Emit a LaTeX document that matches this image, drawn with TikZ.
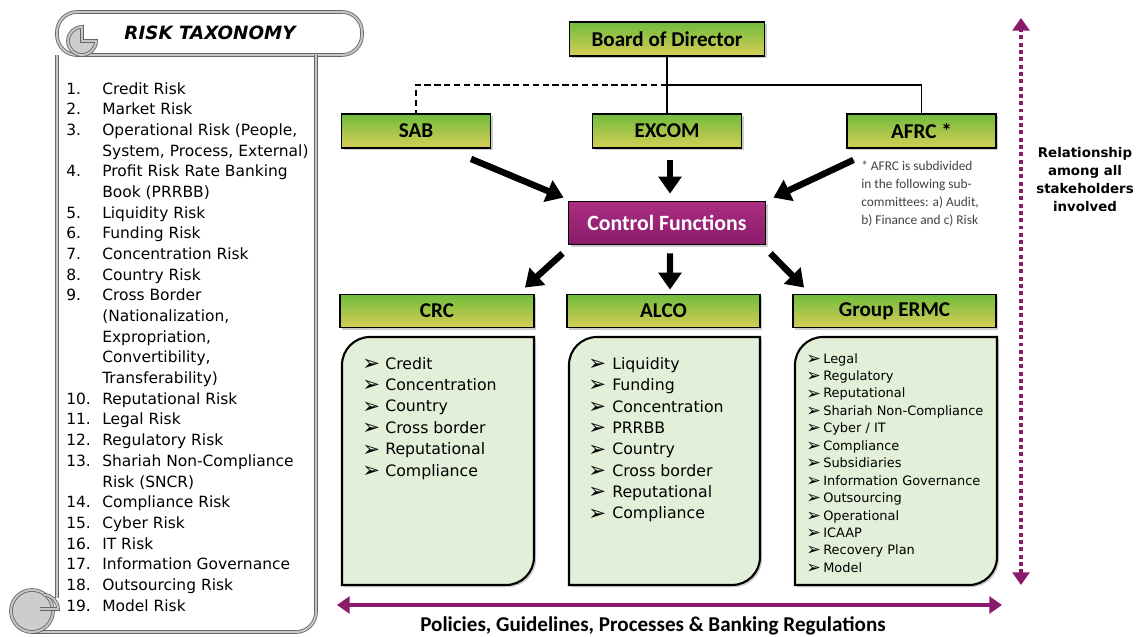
\documentclass[tikz,border=0pt]{standalone}
\usepackage{fontspec}
\setmainfont{DejaVu Sans}
\newfontfamily\hfont{Carlito}
\newfontfamily\symfont{DejaVu Sans}
\usepackage{array}
\usepackage{graphicx}
\usetikzlibrary{calc, arrows.meta, shadows}
\tikzset{>=latex}

\definecolor{hdrtop}{RGB}{112,188,60}
\definecolor{hdrbot}{RGB}{214,206,86}
\definecolor{boxfill}{RGB}{226,239,217}
\definecolor{plum}{RGB}{139,26,107}
\definecolor{plumtop}{RGB}{170,46,130}
\definecolor{scrollfill}{RGB}{205,205,205}

\newcommand{\bul}[1]{\makebox[#1][l]{\raisebox{-0.15ex}{\scalebox{1.35}{\symfont\char"27A2}}}}
% box with round top-left and bottom-right corners
\newcommand{\riskbox}[4]{\draw[cbox] (#1,#4) -- (#1,#2+28) arc(180:270:28) -- (#3,#2) -- (#3,#4-28) arc(0:90:28) -- cycle;}

\begin{document}
\begin{tikzpicture}[x=0.025cm, y=-0.025cm,
  hdr/.style={draw=black, line width=1.3pt, top color=hdrtop, bottom color=hdrbot,
    minimum height=0.85cm, inner sep=0pt, font=\hfont\bfseries\fontsize{15}{18}\selectfont,
    drop shadow={opacity=0.4, shadow xshift=1.5pt, shadow yshift=-1.5pt}},
  cbox/.style={draw=black, line width=1.5pt, fill=boxfill,
    drop shadow={opacity=0.4, shadow xshift=1.5pt, shadow yshift=-1.5pt}},
  items/.style={anchor=north west, inner sep=0pt, align=left},
  scroll/.style={draw=black!60, double=gray!45, double distance=1.4pt, line width=0.6pt},
  conn/.style={line width=1.1pt},
  bigarrow/.style={line width=4.6pt, -{Triangle[length=12pt, width=16pt]}},
  plumarrow/.style={plum, line width=3.2pt, {Triangle[length=9pt, width=12pt]}-{Triangle[length=9pt, width=12pt]}}]
\useasboundingbox (0,0) rectangle (1138,637);

% scroll
\draw[scroll, rounded corners=0.5cm] (57,12) rectangle (362,55);
\filldraw[scroll, fill=scrollfill] (82,41) -- (96,41) arc(0:270:14) -- cycle;
\draw[scroll] (57,55) -- (57,598);
\draw[scroll] (316,55) -- (316,612) arc(0:90:20) -- (32,632);
\filldraw[scroll, fill=scrollfill] (32,611) circle (21);
\draw[scroll] (44,595) arc(-90:0:14) -- (40,609);
\node[font=\bfseries\itshape\fontsize{13}{15}\selectfont] (title) at (210,33) {RISK TAXONOMY};
\node[anchor=north west, inner sep=0pt, font=\fontsize{11}{14.7}\selectfont] (risklist) at (66,79.5) {%
\begin{tabular}{@{}p{0.9cm}@{}l@{}}
1. & Credit Risk\\
2. & Market Risk\\
3. & Operational Risk (People,\\
   & System, Process, External)\\
4. & Profit Risk Rate Banking\\
   & Book (PRRBB)\\
5. & Liquidity Risk\\
6. & Funding Risk\\
7. & Concentration Risk\\
8. & Country Risk\\
9. & Cross Border\\
   & (Nationalization,\\
   & Expropriation,\\
   & Convertibility,\\
   & Transferability)\\
10. & Reputational Risk\\
11. & Legal Risk\\
12. & Regulatory Risk\\
13. & Shariah Non-Compliance\\
    & Risk (SNCR)\\
14. & Compliance Risk\\
15. & Cyber Risk\\
16. & IT Risk\\
17. & Information Governance\\
18. & Outsourcing Risk\\
19. & Model Risk
\end{tabular}};

% governance
\node[hdr, minimum width=4.875cm] (board) at (667,39) {Board of Director};
\node[hdr, minimum width=3.725cm] (sab) at (416,131) {SAB};
\node[hdr, minimum width=3.725cm] (excom) at (667,131) {EXCOM};
\node[hdr, minimum width=3.725cm] (afrc) at (921.5,131) {AFRC *};
\coordinate (split) at (667,85);
\draw[conn] (board) -- (excom);
\draw[conn] (split) -| (afrc);
\draw[conn, dash pattern=on 4.5pt off 2.5pt] (split) -| (sab);
\node[anchor=north west, inner sep=0pt, align=left, text=black!75,
  font=\hfont\fontsize{9.5}{12.8}\selectfont] (note) at (861,161)
  {* AFRC is subdivided\\in the following sub-\\committees: a) Audit,\\b) Finance and c) Risk};

\node[draw=black, line width=1.3pt, top color=plumtop, bottom color=plum, text=white,
  minimum width=4.925cm, minimum height=1.075cm, inner sep=0pt,
  font=\hfont\bfseries\fontsize{15.5}{18}\selectfont,
  drop shadow={opacity=0.4, shadow xshift=1.5pt, shadow yshift=-1.5pt}] (ctrl) at (667,223) {Control Functions};

\draw[bigarrow] ($(sab.south)+(55,10)$) -- ($(ctrl.north west)+(-4,-3)$);
\draw[bigarrow] ($(excom.south)+(3,11)$) -- ($(ctrl.north)+(3,-7)$);
\draw[bigarrow] ($(afrc.south)+(-68,11)$) -- ($(ctrl.north east)+(7,-3)$);

\node[hdr, minimum width=4.85cm, minimum height=0.825cm] (crc) at (437,311) {CRC};
\node[hdr, minimum width=4.825cm, minimum height=0.825cm] (alco) at (663.5,311) {ALCO};
\node[hdr, minimum width=5.075cm, minimum height=0.825cm] (ermc) at (894.5,311) {Group ERMC};

\draw[bigarrow] ($(ctrl.south west)+(-5,8)$) -- ($(crc.north east)+(-10,-6)$);
\draw[bigarrow] ($(ctrl.south)+(3,8)$) -- ($(alco.north)+(6.5,-4)$);
\draw[bigarrow] ($(ctrl.south east)+(4,8)$) -- ($(ermc.north west)+(12,-6)$);

% committee boxes
\riskbox{342}{337}{534}{585}
\riskbox{569}{337}{760}{585}
\riskbox{795}{337}{997}{585}
\node[items, font=\fontsize{11.2}{15.2}\selectfont] (crcitems) at (362,357)
  {\bul{0.575cm}Credit\\\bul{0.575cm}Concentration\\\bul{0.575cm}Country\\
   \bul{0.575cm}Cross border\\\bul{0.575cm}Reputational\\\bul{0.575cm}Compliance};
\node[items, font=\fontsize{11.2}{15.2}\selectfont] (alcoitems) at (588,357)
  {\bul{0.6cm}Liquidity\\\bul{0.6cm}Funding\\\bul{0.6cm}Concentration\\\bul{0.6cm}PRRBB\\
   \bul{0.6cm}Country\\\bul{0.6cm}Cross border\\\bul{0.6cm}Reputational\\\bul{0.6cm}Compliance};
\node[items, font=\fontsize{9.2}{12.4}\selectfont] (ermcitems) at (806,353)
  {\bul{0.425cm}Legal\\\bul{0.425cm}Regulatory\\\bul{0.425cm}Reputational\\
   \bul{0.425cm}Shariah Non-Compliance\\\bul{0.425cm}Cyber / IT\\\bul{0.425cm}Compliance\\
   \bul{0.425cm}Subsidiaries\\\bul{0.425cm}Information Governance\\\bul{0.425cm}Outsourcing\\
   \bul{0.425cm}Operational\\\bul{0.425cm}ICAAP\\\bul{0.425cm}Recovery Plan\\\bul{0.425cm}Model};

% relationship arrows
\coordinate (reltop) at (1021,18);
\coordinate (relbot) at (1021,585);
\draw[plumarrow, line width=2.8pt, dash pattern=on 2.8pt off 2.4pt] (relbot) -- (reltop);
\node[align=center, font=\bfseries\fontsize{9.5}{12.8}\selectfont] (rel) at (1085,180)
  {Relationship\\among all\\stakeholders\\involved};
\coordinate (polleft) at (337,605);
\coordinate (polright) at (1002,605);
\draw[plumarrow] (polleft) -- (polright);
\node[anchor=base, font=\hfont\bfseries\fontsize{15}{18}\selectfont] (policies) at (653,631.5)
  {Policies, Guidelines, Processes \& Banking Regulations};
\end{tikzpicture}
\end{document}
